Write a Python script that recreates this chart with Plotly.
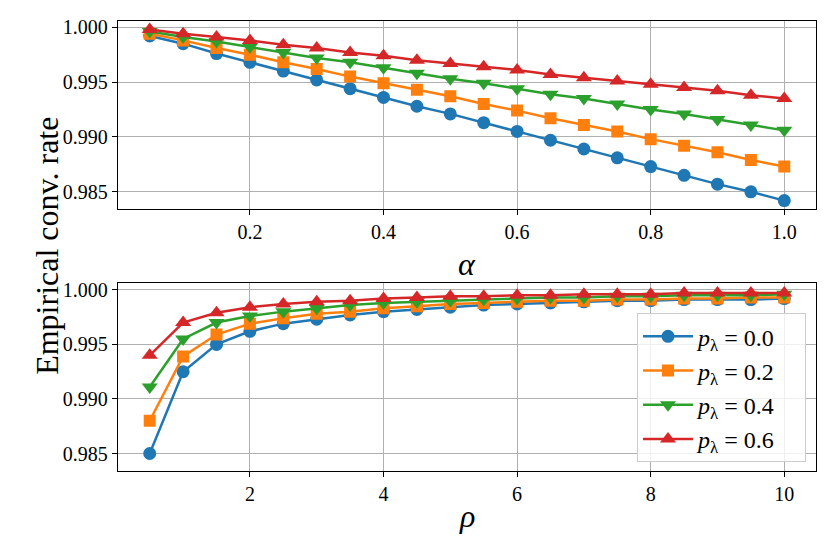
import plotly.graph_objects as go

# ---------------- data ----------------
alpha = [0.05, 0.10, 0.15, 0.20, 0.25, 0.30, 0.35, 0.40, 0.45, 0.50,
         0.55, 0.60, 0.65, 0.70, 0.75, 0.80, 0.85, 0.90, 0.95, 1.00]
rho = [0.5, 1.0, 1.5, 2.0, 2.5, 3.0, 3.5, 4.0, 4.5, 5.0,
       5.5, 6.0, 6.5, 7.0, 7.5, 8.0, 8.5, 9.0, 9.5, 10.0]

series_names = ["0.0", "0.2", "0.4", "0.6"]

alpha_p00 = [0.9992, 0.9985, 0.9976, 0.9968, 0.9960, 0.9952, 0.9944, 0.9936, 0.9928, 0.9921,
             0.9913, 0.9905, 0.9897, 0.9889, 0.9881, 0.9873, 0.9865, 0.9857, 0.9850, 0.9842]
alpha_p02 = [0.9994, 0.9988, 0.9981, 0.9975, 0.9968, 0.9962, 0.9955, 0.9949, 0.9943, 0.9937,
             0.9930, 0.9924, 0.9917, 0.9911, 0.9905, 0.9898, 0.9892, 0.9886, 0.9879, 0.9873]
alpha_p04 = [0.9996, 0.9991, 0.9987, 0.9982, 0.9977, 0.9972, 0.9968, 0.9963, 0.9958, 0.9953,
             0.9949, 0.9944, 0.9939, 0.9935, 0.9930, 0.9925, 0.9921, 0.9916, 0.9911, 0.9906]
alpha_p06 = [0.9998, 0.9994, 0.9991, 0.9988, 0.9984, 0.9981, 0.9977, 0.9974, 0.9970, 0.9967,
             0.9964, 0.9961, 0.9957, 0.9954, 0.9951, 0.9948, 0.9945, 0.9942, 0.9938, 0.9935]

rho_p00 = [0.9850, 0.9925, 0.9950, 0.9962, 0.9969, 0.9973, 0.9977, 0.9980, 0.9982, 0.9984,
           0.9986, 0.9987, 0.9988, 0.9989, 0.9990, 0.9990, 0.9991, 0.9991, 0.9991, 0.9992]
rho_p02 = [0.9880, 0.9939, 0.9959, 0.9969, 0.9974, 0.9978, 0.9980, 0.9983, 0.9985, 0.9987,
           0.9988, 0.9989, 0.9990, 0.9990, 0.9991, 0.9991, 0.9992, 0.9992, 0.9993, 0.9993]
rho_p04 = [0.9911, 0.9955, 0.9970, 0.9976, 0.9980, 0.9983, 0.9986, 0.9988, 0.9989, 0.9990,
           0.9991, 0.9992, 0.9993, 0.9993, 0.9994, 0.9994, 0.9995, 0.9995, 0.9995, 0.9996]
rho_p06 = [0.9940, 0.9970, 0.9979, 0.9984, 0.9987, 0.9989, 0.9990, 0.9992, 0.9993, 0.9994,
           0.9994, 0.9995, 0.9995, 0.9996, 0.9996, 0.9996, 0.9997, 0.9997, 0.9997, 0.9997]

alpha_ticks = [0.2, 0.4, 0.6, 0.8, 1.0]
alpha_tick_text = ["0.2", "0.4", "0.6", "0.8", "1.0"]
rho_ticks = [2, 4, 6, 8, 10]
rho_tick_text = ["2", "4", "6", "8", "10"]
y_ticks = [0.985, 0.990, 0.995, 1.000]
y_tick_text = ["0.985", "0.990", "0.995", "1.000"]

# ---------------- style ----------------
colors = ["#1f77b4", "#ff7f0e", "#2ca02c", "#d62728"]
symbols = ["circle", "square", "triangle-down", "triangle-up"]
msizes = [13, 12, 14, 14]
FONT = "'Liberation Serif', 'DejaVu Serif', serif"

W, H = 831, 556
def px_x(p):
    return p / W
def px_y(p):
    return 1 - p / H

fig = go.Figure()

alpha_series = [alpha_p00, alpha_p02, alpha_p04, alpha_p06]
rho_series = [rho_p00, rho_p02, rho_p04, rho_p06]

for i, name in enumerate(series_names):
    fig.add_trace(go.Scatter(
        x=alpha, y=alpha_series[i], mode="lines+markers",
        line=dict(color=colors[i], width=2.5),
        marker=dict(symbol=symbols[i], size=msizes[i], color=colors[i], line=dict(width=0)),
        showlegend=False, xaxis="x", yaxis="y",
    ))
for i, name in enumerate(series_names):
    fig.add_trace(go.Scatter(
        x=rho, y=rho_series[i], mode="lines+markers",
        name="<i>p</i><sub>λ</sub> = " + name + "&nbsp;&nbsp;&nbsp;&nbsp;",
        line=dict(color=colors[i], width=2.5),
        marker=dict(symbol=symbols[i], size=msizes[i], color=colors[i], line=dict(width=0)),
        showlegend=True, xaxis="x2", yaxis="y2",
    ))

allv = [v for s in alpha_series + rho_series for v in s]
ymin, ymax = min(allv), max(allv)
pad = (ymax - ymin) * 0.05
yrange = [ymin - pad, ymax + pad]

def xr(vals):
    a, b = min(vals), max(vals)
    p = (b - a) * 0.05
    return [a - p, b + p]

axis_common = dict(
    showline=True, linecolor="black", linewidth=1.3, mirror=True,
    ticks="outside", ticklen=5, tickwidth=1.2, tickcolor="black",
    showgrid=True, gridcolor="#b0b0b0", gridwidth=1,
    zeroline=False,
    tickfont=dict(family=FONT, size=20, color="black"),
)

x0, x1 = px_x(118), px_x(816)
fig.update_layout(
    width=W, height=H,
    margin=dict(l=0, r=0, t=0, b=0),
    paper_bgcolor="white", plot_bgcolor="white",
    font=dict(family=FONT, color="black"),
    xaxis=dict(domain=[x0, x1], anchor="y", range=xr(alpha), tickvals=alpha_ticks,
               ticktext=alpha_tick_text, **axis_common),
    yaxis=dict(domain=[px_y(206), px_y(16)], anchor="x", range=yrange, tickvals=y_ticks,
               ticktext=y_tick_text, **axis_common),
    xaxis2=dict(domain=[x0, x1], anchor="y2", range=xr(rho), tickvals=rho_ticks,
                ticktext=rho_tick_text, **axis_common),
    yaxis2=dict(domain=[px_y(470), px_y(281)], anchor="x2", range=yrange, tickvals=y_ticks,
                ticktext=y_tick_text, **axis_common),
    legend=dict(
        x=px_x(806), y=px_y(311), xanchor="right", yanchor="top",
        bgcolor="rgba(255,255,255,0.8)", bordercolor="#cccccc", borderwidth=1,
        font=dict(family=FONT, size=24, color="black"),
        tracegroupgap=0, itemwidth=50,
    ),
    annotations=[
        dict(text="<i>α</i>", x=px_x(467), y=px_y(261), xref="paper", yref="paper",
             showarrow=False, font=dict(family=FONT, size=32, color="black")),
        dict(text="<i>ρ</i>", x=px_x(467), y=px_y(536), xref="paper", yref="paper",
             showarrow=False, font=dict(family=FONT, size=32, color="black")),
        dict(text="Empirical conv. rate", x=px_x(27), y=px_y(243), xref="paper", yref="paper",
             textangle=-90, showarrow=False, font=dict(family=FONT, size=32, color="black")),
    ],
)

fig.write_html("out.html")
